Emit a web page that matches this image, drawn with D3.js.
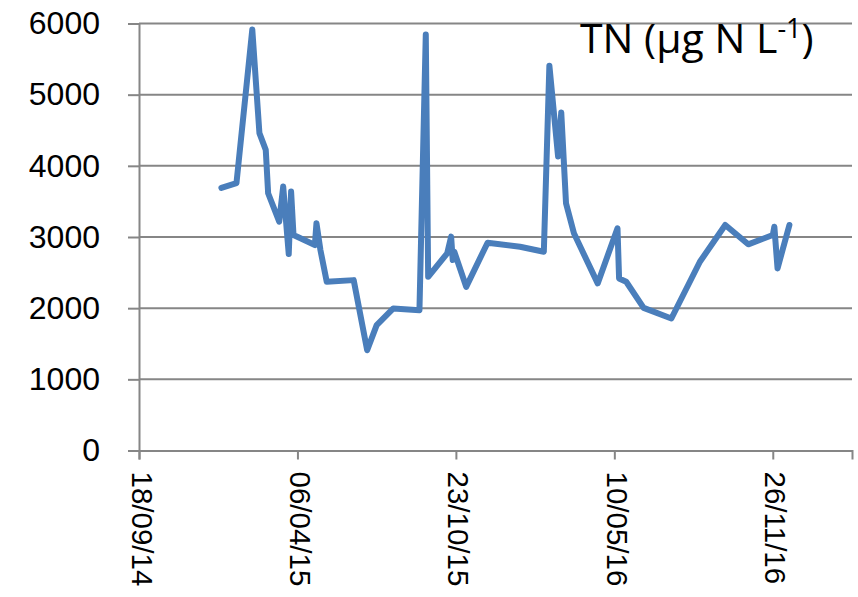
<!DOCTYPE html>
<html>
<head>
<meta charset="utf-8">
<script src="https://cdn.jsdelivr.net/npm/d3@7"></script>
<style>
  body { margin: 0; background: #fff; }
  svg { display: block; }
</style>
</head>
<body>
<div id="vis1"></div>
<script>
// sampling dates and TN values
let dates = ["2014-12-31","2015-01-19","2015-02-08","2015-02-17","2015-02-25","2015-02-28",
  "2015-03-14","2015-03-19","2015-03-26","2015-03-29","2015-04-01","2015-04-28","2015-04-30",
  "2015-05-05","2015-05-13","2015-06-16","2015-07-03","2015-07-15","2015-08-05","2015-09-07",
  "2015-09-15","2015-09-18","2015-10-12","2015-10-17","2015-10-19","2015-10-21","2015-11-05",
  "2015-12-02","2016-01-12","2016-02-11","2016-02-18","2016-02-29","2016-03-04","2016-03-10",
  "2016-03-20","2016-04-19","2016-05-14","2016-05-16","2016-05-25","2016-06-16","2016-07-21",
  "2016-08-26","2016-09-27","2016-10-26","2016-11-26","2016-11-28","2016-12-02","2016-12-17"];
let tn = [3690,3756,5915,4460,4225,3615,
  3216,3709,2760,3638,3028,2887,3193,
  2817,2370,2394,1408,1761,1996,1972,
  5845,2441,2770,3005,2676,2793,2300,
  2920,2863,2793,5408,4131,4751,3475,
  3052,2348,3122,2418,2371,2004,1855,
  2652,3169,2897,3028,3145,2559,3169];

let tickDates = ["2014-09-18","2015-04-06","2015-10-23","2016-05-10","2016-11-26"];
let yTicks = [0,1000,2000,3000,4000,5000,6000];
let xStart = "2014-09-18", xEnd = "2017-03-06";

let W = 858, H = 597;
let margin = { top: 23.5, left: 139, right: 6, bottom: 146.5 };

let parse = d3.timeParse("%Y-%m-%d");
let data = dates.map((d, i) => ({ date: parse(d), value: tn[i] }));

let svg = d3.select('#vis1')
  .append("svg")
  .attr("width", W)
  .attr("height", H)
  .attr("viewBox", [0, 0, W, H].join(' '));

let x = d3.scaleTime()
  .domain([parse(xStart), parse(xEnd)])
  .range([margin.left, W - margin.right]);

let y = d3.scaleLinear()
  .domain([0, 6000])
  .range([H - margin.bottom, margin.top]);

let gridColor = "#868686";

// horizontal gridlines
svg.append("g")
  .selectAll("line")
  .data(yTicks.filter(d => d > 0))
  .join("line")
  .attr("x1", margin.left)
  .attr("x2", W - margin.right)
  .attr("y1", d => y(d))
  .attr("y2", d => y(d))
  .attr("stroke", gridColor)
  .attr("stroke-width", 2);

// y axis
let yAxis = svg.append("g")
  .attr("transform", `translate(${margin.left},0)`)
  .call(d3.axisLeft(y).tickValues(yTicks).tickSize(11).tickPadding(28).tickFormat(d3.format("d")));
yAxis.select(".domain").attr("stroke", gridColor).attr("stroke-width", 2);
yAxis.selectAll(".tick line").attr("stroke", gridColor).attr("stroke-width", 2);
yAxis.selectAll("text")
  .attr("font-family", "Liberation Sans, Arial, sans-serif")
  .attr("font-size", 32)
  .attr("fill", "#000");

// x axis
let xAxis = svg.append("g")
  .attr("transform", `translate(0,${y(0)})`)
  .call(d3.axisBottom(x)
    .tickValues(tickDates.map(parse))
    .tickSize(9)
    .tickFormat(d3.timeFormat("%d/%m/%y")));
xAxis.select(".domain").attr("stroke", gridColor).attr("stroke-width", 2);
xAxis.selectAll(".tick line").attr("stroke", gridColor).attr("stroke-width", 2);
xAxis.selectAll("text")
  .attr("font-family", "Liberation Sans, Arial, sans-serif")
  .attr("font-size", 29.5)
  .attr("fill", "#000")
  .attr("text-anchor", "start")
  .attr("dy", null)
  .attr("y", 0)
  .attr("transform", "translate(-8,21) rotate(90)");

// the series
let line = d3.line()
  .x(d => x(d.date))
  .y(d => y(d.value));

svg.append("path")
  .datum(data)
  .attr("d", line)
  .attr("fill", "none")
  .attr("stroke", "#4a7ebb")
  .attr("stroke-width", 6)
  .attr("stroke-linejoin", "round")
  .attr("stroke-linecap", "round");

// title inside the plot
let title = svg.append("text")
  .attr("x", 580)
  .attr("y", 53)
  .attr("font-family", "Open Sans, sans-serif")
  .attr("font-size", 41)
  .attr("fill", "#000");
title.append("tspan").text("TN (\u03bcg N L");
title.append("tspan").attr("font-size", 27).attr("dy", -15).text("-1");
title.append("tspan").attr("dy", 15).text(")");
</script>
</body>
</html>
